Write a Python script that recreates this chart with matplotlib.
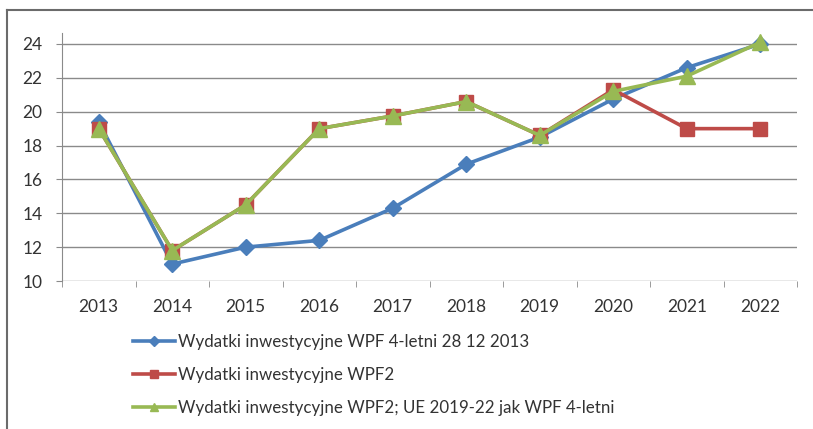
import matplotlib
matplotlib.use("Agg")
import matplotlib.pyplot as plt
from matplotlib.lines import Line2D

years = ["2013", "2014", "2015", "2016", "2017", "2018", "2019", "2020", "2021", "2022"]
wpf4 = [19.4, 11.0, 12.0, 12.4, 14.3, 16.9, 18.5, 20.75, 22.6, 24.0]
wpf2 = [19.0, 11.8, 14.5, 19.0, 19.75, 20.6, 18.6, 21.3, 19.0, 19.0]
wpf2_ue = [19.0, 11.8, 14.5, 19.0, 19.75, 20.6, 18.6, 21.2, 22.1, 24.1]
labels = ["Wydatki inwestycyjne WPF 4-letni 28 12 2013",
          "Wydatki inwestycyjne WPF2",
          "Wydatki inwestycyjne WPF2; UE 2019-22 jak WPF 4-letni"]
yticks = [10, 12, 14, 16, 18, 20, 22, 24]

plt.rcParams['font.family'] = ['Lato', 'DejaVu Sans']

W, H = 813, 429
fig = plt.figure(figsize=(W / 100, H / 100), dpi=100)
ax = fig.add_axes([62 / W, 1 - 281 / H, (797 - 62) / W, (281 - 33) / H])

x = list(range(len(years)))
blue, red, green = "#4A7EBB", "#BE4B48", "#98B954"
ax.plot(x, wpf4, color=blue, lw=2.6, marker="D", ms=8.5, zorder=3)
ax.plot(x, wpf2, color=red, lw=2.6, marker="s", ms=10.5, zorder=4)
ax.plot(x, wpf2_ue, color=green, lw=2.6, marker="^", ms=11, zorder=5)

ax.set_xlim(-0.5, len(years) - 0.5)
ax.set_ylim(10, 24 + 11 / 16.93)
ax.set_yticks(yticks)
ax.set_yticklabels([str(v) for v in yticks])
ax.set_xticks(x)
ax.set_xticklabels(years)
ax.set_xticks([i + 0.5 for i in range(-1, len(years))], minor=True)

for y in yticks:
    ax.axhline(y, color="#8a8a8a", lw=1.0, zorder=1)

for s in ["top", "right", "bottom"]:
    ax.spines[s].set_visible(False)
ax.spines["left"].set_color("#8a8a8a")
ax.tick_params(axis="y", length=4, color="#8a8a8a", pad=10, labelsize=12.5, labelcolor="#333333")
ax.tick_params(axis="x", which="major", length=0, pad=13, labelsize=12.5, labelcolor="#333333")
ax.tick_params(axis="x", which="minor", length=4, color="#8a8a8a")

handles = [
    Line2D([], [], color=blue, lw=2.6, marker="D", ms=5),
    Line2D([], [], color=red, lw=2.6, marker="s", ms=6),
    Line2D([], [], color=green, lw=2.6, marker="^", ms=6),
]
fig.legend(handles, labels, loc="upper left", bbox_to_anchor=(133 / W, 1 - 334 / H),
           frameon=False, fontsize=12.2, handlelength=2.5, handletextpad=0.15,
           labelspacing=1.0, borderpad=0, borderaxespad=0, labelcolor="#333333")

# outer chart border (top and left visible)
fig.add_artist(Line2D([7 / W, 1], [1 - 10 / H, 1 - 10 / H], transform=fig.transFigure,
                      color="#6b6b6b", lw=1.5))
fig.add_artist(Line2D([7 / W, 7 / W], [0, 1 - 10 / H], transform=fig.transFigure,
                      color="#6b6b6b", lw=1.5))

fig.savefig("out.png", dpi=100)
